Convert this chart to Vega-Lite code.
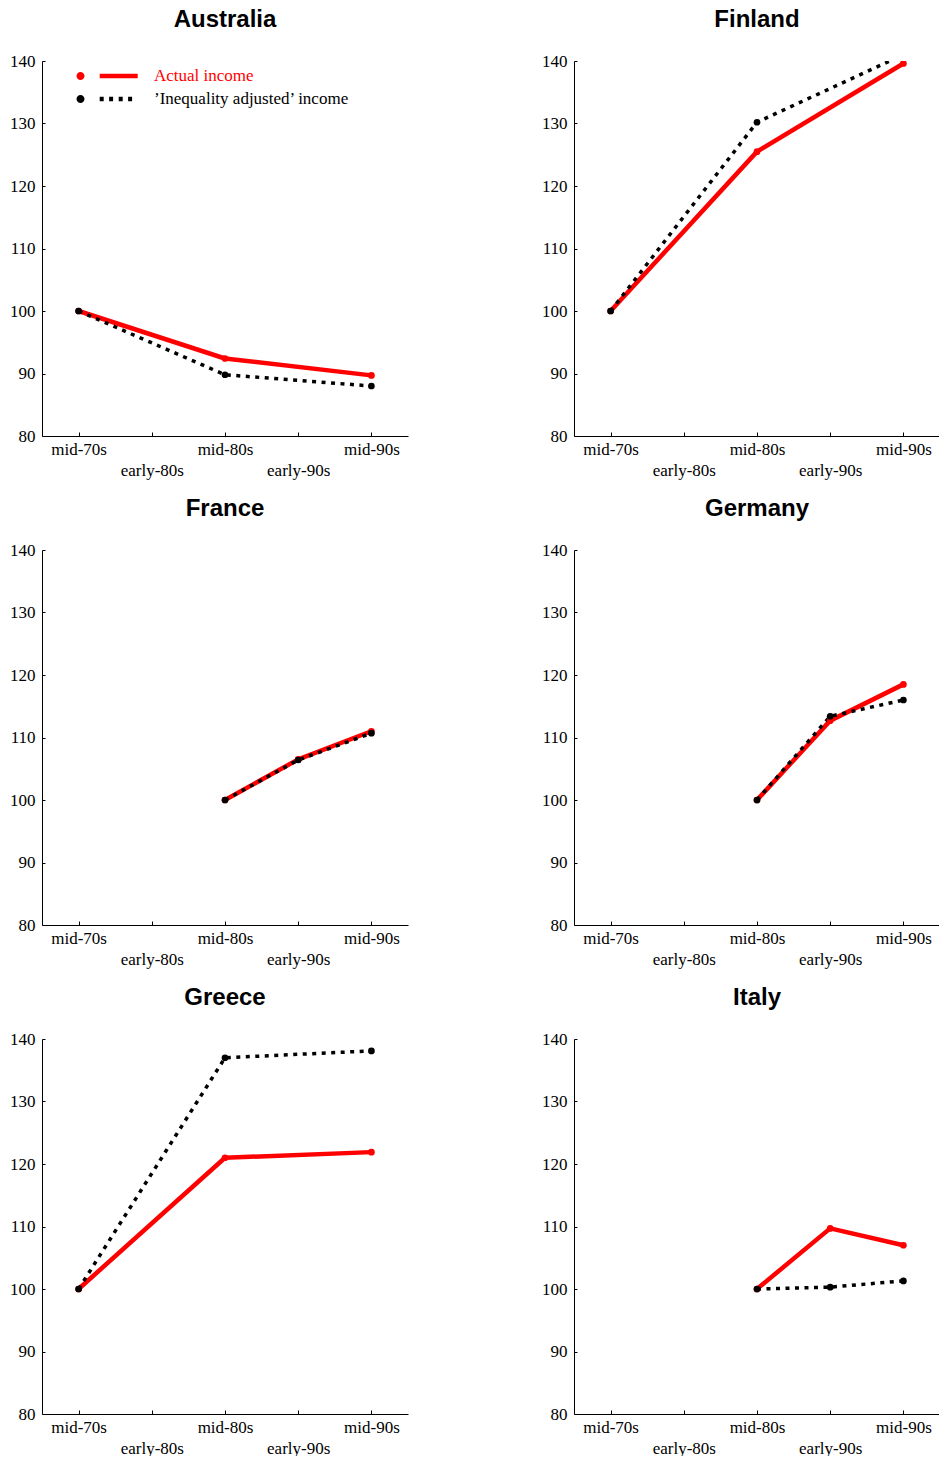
{
  "$schema": "https://vega.github.io/schema/vega-lite/v6.json",
  "padding": {"left": 9, "top": 8, "right": 0, "bottom": 0},
  "background": "#ffffff",
  "bounds": "flush",
  "columns": 2,
  "spacing": {"row": 114, "column": 166},
  "data": {
    "values": [
      {"country": "Australia", "period": "mid-70s", "series": "Actual income", "value": 100},
      {"country": "Australia", "period": "mid-80s", "series": "Actual income", "value": 92.4},
      {"country": "Australia", "period": "mid-90s", "series": "Actual income", "value": 89.7},
      {"country": "Australia", "period": "mid-70s", "series": "’Inequality adjusted’ income", "value": 100},
      {"country": "Australia", "period": "mid-80s", "series": "’Inequality adjusted’ income", "value": 89.8},
      {"country": "Australia", "period": "mid-90s", "series": "’Inequality adjusted’ income", "value": 88.0},
      {"country": "Finland", "period": "mid-70s", "series": "Actual income", "value": 100},
      {"country": "Finland", "period": "mid-80s", "series": "Actual income", "value": 125.5},
      {"country": "Finland", "period": "mid-90s", "series": "Actual income", "value": 139.6},
      {"country": "Finland", "period": "mid-70s", "series": "’Inequality adjusted’ income", "value": 100},
      {"country": "Finland", "period": "mid-80s", "series": "’Inequality adjusted’ income", "value": 130.2},
      {"country": "Finland", "period": "mid-90s", "series": "’Inequality adjusted’ income", "value": 141.0},
      {"country": "France", "period": "mid-80s", "series": "Actual income", "value": 100},
      {"country": "France", "period": "early-90s", "series": "Actual income", "value": 106.5},
      {"country": "France", "period": "mid-90s", "series": "Actual income", "value": 111.0},
      {"country": "France", "period": "mid-80s", "series": "’Inequality adjusted’ income", "value": 100},
      {"country": "France", "period": "early-90s", "series": "’Inequality adjusted’ income", "value": 106.4},
      {"country": "France", "period": "mid-90s", "series": "’Inequality adjusted’ income", "value": 110.7},
      {"country": "Germany", "period": "mid-80s", "series": "Actual income", "value": 100},
      {"country": "Germany", "period": "early-90s", "series": "Actual income", "value": 112.7},
      {"country": "Germany", "period": "mid-90s", "series": "Actual income", "value": 118.5},
      {"country": "Germany", "period": "mid-80s", "series": "’Inequality adjusted’ income", "value": 100},
      {"country": "Germany", "period": "early-90s", "series": "’Inequality adjusted’ income", "value": 113.4},
      {"country": "Germany", "period": "mid-90s", "series": "’Inequality adjusted’ income", "value": 116.0},
      {"country": "Greece", "period": "mid-70s", "series": "Actual income", "value": 100},
      {"country": "Greece", "period": "mid-80s", "series": "Actual income", "value": 121.0},
      {"country": "Greece", "period": "mid-90s", "series": "Actual income", "value": 121.9},
      {"country": "Greece", "period": "mid-70s", "series": "’Inequality adjusted’ income", "value": 100},
      {"country": "Greece", "period": "mid-80s", "series": "’Inequality adjusted’ income", "value": 137.0},
      {"country": "Greece", "period": "mid-90s", "series": "’Inequality adjusted’ income", "value": 138.1},
      {"country": "Italy", "period": "mid-80s", "series": "Actual income", "value": 100},
      {"country": "Italy", "period": "early-90s", "series": "Actual income", "value": 109.7},
      {"country": "Italy", "period": "mid-90s", "series": "Actual income", "value": 107.0},
      {"country": "Italy", "period": "mid-80s", "series": "’Inequality adjusted’ income", "value": 100},
      {"country": "Italy", "period": "early-90s", "series": "’Inequality adjusted’ income", "value": 100.3},
      {"country": "Italy", "period": "mid-90s", "series": "’Inequality adjusted’ income", "value": 101.3}
    ]
  },
  "resolve": {"scale": {"color": "independent"}, "legend": {"color": "independent"}},
  "concat": [
    {
      "title": "Australia",
      "width": 366, "height": 375,
      "transform": [{"filter": "datum.country === 'Australia'"}],
      "encoding": {
        "x": {"field": "period", "type": "ordinal", "scale": {"type": "point", "domain": ["mid-70s", "early-80s", "mid-80s", "early-90s", "mid-90s"], "padding": 0.5}},
        "y": {"field": "value", "type": "quantitative", "scale": {"domain": [80, 140], "nice": false, "zero": false},
              "axis": {"values": [80, 90, 100, 110, 120, 130, 140]}},
        "color": {
          "field": "series", "type": "nominal",
          "scale": {"domain": ["Actual income", "’Inequality adjusted’ income"], "range": ["#ff0000", "#000000"]},
          "legend": {
            "orient": "none", "legendX": 30, "legendY": 6.5, "title": null, "padding": 0,
            "symbolSize": 64, "symbolStrokeWidth": 0, "labelOffset": 65, "rowPadding": 5,
            "labelFont": "Liberation Serif", "labelFontSize": 17, "labelLimit": 400,
            "encode": {
              "symbols": {"update": {
                "shape": {"signal": "datum.value === 'Actual income' ? 'M-1,0A1,1,0,1,0,1,0A1,1,0,1,0,-1,0ZM4.8,-0.55H14.3V0.55H4.8Z' : 'M-1,0A1,1,0,1,0,1,0A1,1,0,1,0,-1,0ZM4.8,-0.55H5.8V0.55H4.8ZM7.15,-0.55H8.15V0.55H7.15ZM9.55,-0.55H10.55V0.55H9.55ZM11.9,-0.55H12.9V0.55H11.9Z'"},
                "fill": {"signal": "datum.value === 'Actual income' ? '#ff0000' : '#000000'"},
                "opacity": {"value": 1},
                "strokeWidth": {"value": 0}
              }},
              "labels": {"update": {"fill": {"signal": "datum.value === 'Actual income' ? '#ff0000' : '#000000'"}}}
            }
          }
        }
      },
      "layer": [
        {"transform": [{"filter": "datum.series === 'Actual income'"}], "mark": {"type": "line", "strokeWidth": 4.5, "strokeJoin": "round", "strokeCap": "round", "clip": true}, "encoding": {}},
        {"transform": [{"filter": "datum.series !== 'Actual income'"}], "mark": {"type": "line", "strokeWidth": 3.5, "strokeDash": [4, 5.5], "strokeCap": "butt", "clip": true}, "encoding": {}},
        {"mark": {"type": "circle", "size": 45, "opacity": 1, "clip": true}, "encoding": {}}
      ]
    },
    {
      "title": "Finland",
      "width": 366, "height": 375,
      "transform": [{"filter": "datum.country === 'Finland'"}],
      "encoding": {
        "x": {"field": "period", "type": "ordinal", "scale": {"type": "point", "domain": ["mid-70s", "early-80s", "mid-80s", "early-90s", "mid-90s"], "padding": 0.5}},
        "y": {"field": "value", "type": "quantitative", "scale": {"domain": [80, 140], "nice": false, "zero": false},
              "axis": {"values": [80, 90, 100, 110, 120, 130, 140]}},
        "color": {"field": "series", "type": "nominal", "scale": {"domain": ["Actual income", "’Inequality adjusted’ income"], "range": ["#ff0000", "#000000"]}, "legend": null}
      },
      "layer": [
        {"transform": [{"filter": "datum.series === 'Actual income'"}], "mark": {"type": "line", "strokeWidth": 4.5, "strokeJoin": "round", "strokeCap": "round", "clip": true}, "encoding": {}},
        {"transform": [{"filter": "datum.series !== 'Actual income'"}], "mark": {"type": "line", "strokeWidth": 3.5, "strokeDash": [4, 5.5], "strokeCap": "butt", "clip": true}, "encoding": {}},
        {"mark": {"type": "circle", "size": 45, "opacity": 1, "clip": true}, "encoding": {}}
      ]
    },
    {
      "title": "France",
      "width": 366, "height": 375,
      "transform": [{"filter": "datum.country === 'France'"}],
      "encoding": {
        "x": {"field": "period", "type": "ordinal", "scale": {"type": "point", "domain": ["mid-70s", "early-80s", "mid-80s", "early-90s", "mid-90s"], "padding": 0.5}},
        "y": {"field": "value", "type": "quantitative", "scale": {"domain": [80, 140], "nice": false, "zero": false},
              "axis": {"values": [80, 90, 100, 110, 120, 130, 140]}},
        "color": {"field": "series", "type": "nominal", "scale": {"domain": ["Actual income", "’Inequality adjusted’ income"], "range": ["#ff0000", "#000000"]}, "legend": null}
      },
      "layer": [
        {"transform": [{"filter": "datum.series === 'Actual income'"}], "mark": {"type": "line", "strokeWidth": 4.5, "strokeJoin": "round", "strokeCap": "round", "clip": true}, "encoding": {}},
        {"transform": [{"filter": "datum.series !== 'Actual income'"}], "mark": {"type": "line", "strokeWidth": 3.5, "strokeDash": [4, 5.5], "strokeCap": "butt", "clip": true}, "encoding": {}},
        {"mark": {"type": "circle", "size": 45, "opacity": 1, "clip": true}, "encoding": {}}
      ]
    },
    {
      "title": "Germany",
      "width": 366, "height": 375,
      "transform": [{"filter": "datum.country === 'Germany'"}],
      "encoding": {
        "x": {"field": "period", "type": "ordinal", "scale": {"type": "point", "domain": ["mid-70s", "early-80s", "mid-80s", "early-90s", "mid-90s"], "padding": 0.5}},
        "y": {"field": "value", "type": "quantitative", "scale": {"domain": [80, 140], "nice": false, "zero": false},
              "axis": {"values": [80, 90, 100, 110, 120, 130, 140]}},
        "color": {"field": "series", "type": "nominal", "scale": {"domain": ["Actual income", "’Inequality adjusted’ income"], "range": ["#ff0000", "#000000"]}, "legend": null}
      },
      "layer": [
        {"transform": [{"filter": "datum.series === 'Actual income'"}], "mark": {"type": "line", "strokeWidth": 4.5, "strokeJoin": "round", "strokeCap": "round", "clip": true}, "encoding": {}},
        {"transform": [{"filter": "datum.series !== 'Actual income'"}], "mark": {"type": "line", "strokeWidth": 3.5, "strokeDash": [4, 5.5], "strokeCap": "butt", "clip": true}, "encoding": {}},
        {"mark": {"type": "circle", "size": 45, "opacity": 1, "clip": true}, "encoding": {}}
      ]
    },
    {
      "title": "Greece",
      "width": 366, "height": 375,
      "transform": [{"filter": "datum.country === 'Greece'"}],
      "encoding": {
        "x": {"field": "period", "type": "ordinal", "scale": {"type": "point", "domain": ["mid-70s", "early-80s", "mid-80s", "early-90s", "mid-90s"], "padding": 0.5}},
        "y": {"field": "value", "type": "quantitative", "scale": {"domain": [80, 140], "nice": false, "zero": false},
              "axis": {"values": [80, 90, 100, 110, 120, 130, 140]}},
        "color": {"field": "series", "type": "nominal", "scale": {"domain": ["Actual income", "’Inequality adjusted’ income"], "range": ["#ff0000", "#000000"]}, "legend": null}
      },
      "layer": [
        {"transform": [{"filter": "datum.series === 'Actual income'"}], "mark": {"type": "line", "strokeWidth": 4.5, "strokeJoin": "round", "strokeCap": "round", "clip": true}, "encoding": {}},
        {"transform": [{"filter": "datum.series !== 'Actual income'"}], "mark": {"type": "line", "strokeWidth": 3.5, "strokeDash": [4, 5.5], "strokeCap": "butt", "clip": true}, "encoding": {}},
        {"mark": {"type": "circle", "size": 45, "opacity": 1, "clip": true}, "encoding": {}}
      ]
    },
    {
      "title": "Italy",
      "width": 366, "height": 375,
      "transform": [{"filter": "datum.country === 'Italy'"}],
      "encoding": {
        "x": {"field": "period", "type": "ordinal", "scale": {"type": "point", "domain": ["mid-70s", "early-80s", "mid-80s", "early-90s", "mid-90s"], "padding": 0.5}},
        "y": {"field": "value", "type": "quantitative", "scale": {"domain": [80, 140], "nice": false, "zero": false},
              "axis": {"values": [80, 90, 100, 110, 120, 130, 140]}},
        "color": {"field": "series", "type": "nominal", "scale": {"domain": ["Actual income", "’Inequality adjusted’ income"], "range": ["#ff0000", "#000000"]}, "legend": null}
      },
      "layer": [
        {"transform": [{"filter": "datum.series === 'Actual income'"}], "mark": {"type": "line", "strokeWidth": 4.5, "strokeJoin": "round", "strokeCap": "round", "clip": true}, "encoding": {}},
        {"transform": [{"filter": "datum.series !== 'Actual income'"}], "mark": {"type": "line", "strokeWidth": 3.5, "strokeDash": [4, 5.5], "strokeCap": "butt", "clip": true}, "encoding": {}},
        {"mark": {"type": "circle", "size": 45, "opacity": 1, "clip": true}, "encoding": {}}
      ]
    }
  ],
  "config": {
    "view": {"stroke": null},
    "title": {"font": "Liberation Sans", "fontSize": 24, "fontWeight": "bold", "color": "#000000", "anchor": "middle", "offset": 20},
    "axis": {
      "title": null, "grid": false,
      "domainColor": "#000000", "domainWidth": 1,
      "tickColor": "#000000", "tickWidth": 1,
      "labelFont": "Liberation Serif", "labelFontSize": 17, "labelColor": "#000000"
    },
    "axisX": {
      "tickSize": -4, "labelPadding": 9, "labelAngle": 0, "labelOverlap": false, "labelFlush": false,
      "labelLineHeight": 21,
      "labelExpr": "indexof(['early-80s', 'early-90s'], datum.value) >= 0 ? ['', datum.label] : datum.label"
    },
    "axisY": {
      "tickSize": -3, "labelPadding": 10
    }
  }
}
